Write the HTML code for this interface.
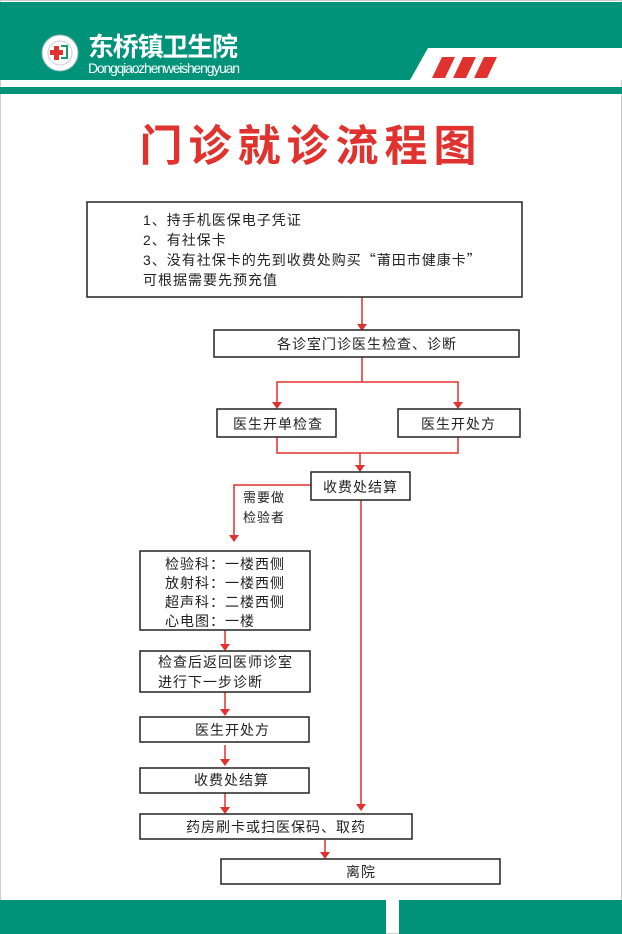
<!DOCTYPE html>
<html><head><meta charset="utf-8"><style>
html,body{margin:0;padding:0;background:#fff}
svg{display:block}
text{font-family:"Liberation Sans","Noto Sans CJK SC",sans-serif;fill:#222}
.cjk{font-family:"Noto Sans CJK SC",sans-serif}
</style></head><body>
<svg width="622" height="934" viewBox="0 0 622 934" xmlns="http://www.w3.org/2000/svg">
<rect x="0" y="0" width="622" height="934" fill="#fff"/>
<rect x="0.5" y="0.5" width="621" height="933" fill="none" stroke="#ccc"/>
<rect x="0" y="2" width="622" height="78" fill="#00937a"/>
<rect x="0" y="87" width="622" height="7" fill="#00937a"/>
<polygon points="410,80 428,48 622,48 622,80" fill="#fff"/>
<polygon points="432,78 442,57 455,57 445,78" fill="#e0322e"/>
<polygon points="453,78 463,57 476,57 466,78" fill="#e0322e"/>
<polygon points="474,78 484,57 497,57 487,78" fill="#e0322e"/>
<circle cx="60" cy="53" r="18" fill="#fff" stroke="#9bb" stroke-width="1"/>
<circle cx="60" cy="53" r="12" fill="none" stroke="#ccd" stroke-width="1"/>
<rect x="54" y="46" width="5" height="14" fill="#e0322e"/>
<rect x="50" y="50" width="13" height="5" fill="#e0322e"/>
<path d="M61 46 h6 v12 h-6" fill="none" stroke="#1a9a6a" stroke-width="2"/>
<text x="88" y="56" font-size="26" font-weight="bold" style="fill:#fff" textLength="150">东桥镇卫生院</text>
<text x="88" y="73" font-size="14" style="fill:#fff" textLength="152">Dongqiaozhenweishengyuan</text>
<text x="311" y="161" font-size="43" font-weight="bold" text-anchor="middle" style="fill:#e0322e" letter-spacing="6">门诊就诊流程图</text>
<g stroke="#e0322e" stroke-width="1.5" fill="none">
<line x1="362" y1="297" x2="362" y2="325"/>
<line x1="362" y1="357" x2="362" y2="382"/>
<polyline points="277,403 277,382 458,382 458,403"/>
<polyline points="277,437 277,453 458,453 458,437"/>
<line x1="360" y1="453" x2="360" y2="466"/>
<polyline points="311,485 234,485 234,536"/>
<line x1="361" y1="500" x2="361" y2="805"/>
<line x1="225" y1="630" x2="225" y2="645"/>
<line x1="225" y1="692" x2="225" y2="710"/>
<line x1="225" y1="745" x2="225" y2="760"/>
<line x1="225" y1="793" x2="225" y2="808"/>
<line x1="325" y1="840" x2="325" y2="853"/>
</g>
<g fill="#e0322e">
<polygon points="357,324 367,324 362,331"/>
<polygon points="272,402 282,402 277,409"/>
<polygon points="453,402 463,402 458,409"/>
<polygon points="355,465 365,465 360,472"/>
<polygon points="229,535 239,535 234,542"/>
<polygon points="356,804 366,804 361,811"/>
<polygon points="220,644 230,644 225,651"/>
<polygon points="220,709 230,709 225,716"/>
<polygon points="220,759 230,759 225,766"/>
<polygon points="220,807 230,807 225,814"/>
<polygon points="320,852 330,852 325,859"/>
</g>
<g fill="#fff" stroke="#222" stroke-width="1.5">
<rect x="87" y="202" width="435" height="95"/>
<rect x="214" y="330" width="305" height="27"/>
<rect x="217" y="409" width="119" height="28"/>
<rect x="398" y="409" width="122" height="28"/>
<rect x="311" y="472" width="99" height="28"/>
<rect x="140" y="551" width="170" height="79"/>
<rect x="140" y="651" width="170" height="41"/>
<rect x="140" y="717" width="169" height="25"/>
<rect x="140" y="768" width="169" height="25"/>
<rect x="140" y="814" width="272" height="25"/>
<rect x="221" y="859" width="279" height="25"/>
</g>
<g font-size="14" letter-spacing="1">
<text x="143" y="225">1、持手机医保电子凭证</text>
<text x="143" y="245">2、有社保卡</text>
<text x="143" y="265">3、没有社保卡的先到收费处购买<tspan class="cjk">“</tspan>莆田市健康卡<tspan class="cjk">”</tspan></text>
<text x="143" y="285">可根据需要先预充值</text>
<text x="277" y="349">各诊室门诊医生检查、诊断</text>
<text x="233" y="429">医生开单检查</text>
<text x="421" y="429">医生开处方</text>
<text x="323" y="492">收费处结算</text>
<text x="243" y="502" font-size="13">需要做</text>
<text x="243" y="522" font-size="13">检验者</text>
<text x="165" y="569">检验科：一楼西侧</text>
<text x="165" y="588">放射科：一楼西侧</text>
<text x="165" y="607">超声科：二楼西侧</text>
<text x="165" y="626">心电图：一楼</text>
<text x="158" y="667">检查后返回医师诊室</text>
<text x="158" y="687">进行下一步诊断</text>
<text x="195" y="735">医生开处方</text>
<text x="194" y="785">收费处结算</text>
<text x="186" y="832">药房刷卡或扫医保码、取药</text>
<text x="346" y="877">离院</text>
</g>
<rect x="0" y="900" width="386" height="34" fill="#00937a"/>
<rect x="399" y="900" width="223" height="34" fill="#00937a"/>
</svg>
</body></html>
